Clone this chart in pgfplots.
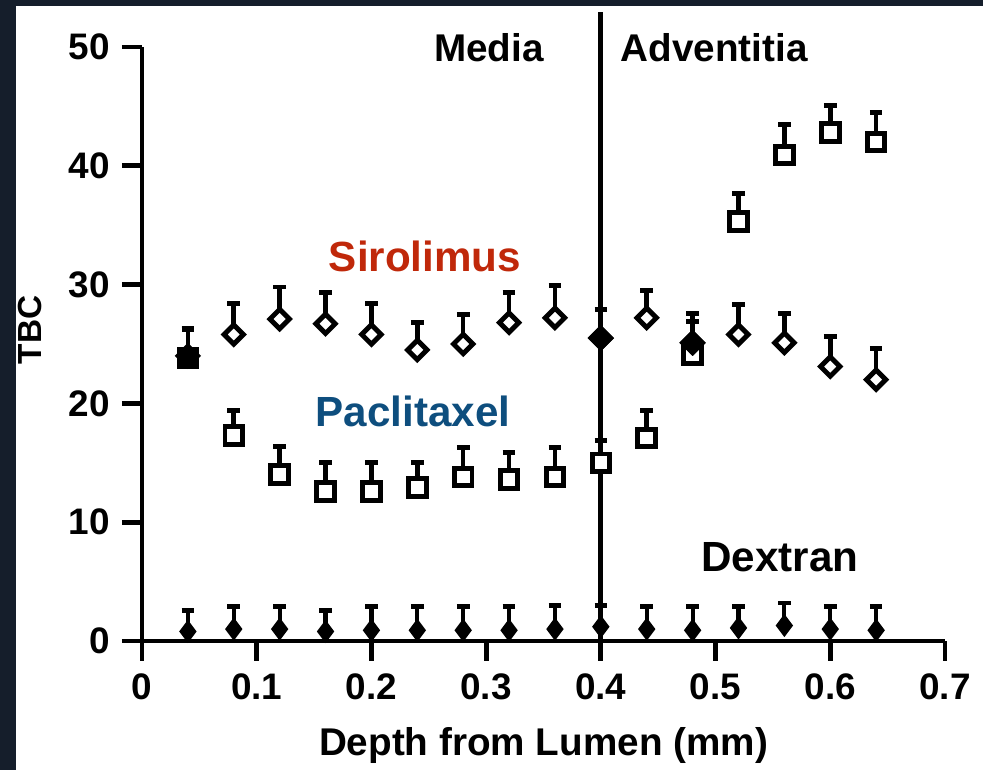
\documentclass[border=0pt]{standalone}
\usepackage{pgfplots}
\usepackage{pgfplotstable}
\pgfplotsset{compat=1.18}
\usepackage{fontspec}
\setmainfont{Liberation Sans}
\definecolor{bgdark}{HTML}{151E2B}
\definecolor{sirored}{HTML}{C0280A}
\definecolor{pacblue}{HTML}{0E4E7E}

% x = depth (mm), y = TBC, e = upper error
\pgfplotstableread{
x y e
0.04 24.0 2.3
0.08 25.8 2.6
0.12 27.1 2.7
0.16 26.7 2.6
0.20 25.8 2.6
0.24 24.5 2.3
0.28 25.0 2.5
0.32 26.8 2.5
0.36 27.2 2.7
0.40 25.5 2.4
0.44 27.2 2.3
0.48 25.1 2.5
0.52 25.8 2.5
0.56 25.1 2.5
0.60 23.1 2.5
0.64 22.0 2.6
}\siro
\pgfplotstableread{
x y e
0.40 25.5 2.4
0.48 25.1 2.5
}\sirofill
\pgfplotstableread{
x y e
0.04 23.8 2.4
0.08 17.3 2.1
0.12 14.0 2.4
0.16 12.6 2.4
0.20 12.6 2.4
0.24 12.9 2.1
0.28 13.8 2.5
0.32 13.6 2.3
0.36 13.8 2.5
0.40 15.0 1.9
0.44 17.1 2.3
0.48 24.1 2.8
0.52 35.3 2.4
0.56 40.9 2.6
0.60 42.8 2.3
0.64 42.0 2.5
}\pacl
\pgfplotstableread{
x y e
0.04 23.8 2.4
}\paclfill
\pgfplotstableread{
x y e
0.04 0.8 1.8
0.08 1.0 1.9
0.12 1.0 1.9
0.16 0.8 1.8
0.20 0.9 2.0
0.24 0.9 2.0
0.28 0.9 2.0
0.32 0.9 2.0
0.36 1.0 2.0
0.40 1.2 1.8
0.44 1.0 1.9
0.48 0.9 2.0
0.52 1.1 1.8
0.56 1.3 1.9
0.60 1.0 1.9
0.64 0.9 2.0
}\dext

\pgfplotsset{
  opensq/.style={only marks, mark=square*, mark size=2.5pt,
    mark options={fill=white, draw=black, line width=1.4pt}},
  fillsq/.style={only marks, mark=square*, mark size=2.5pt,
    mark options={fill=black, draw=black, line width=1.4pt}},
  opendia/.style={only marks, mark=square*, mark size=1.95pt,
    mark options={rotate=45, fill=white, draw=black, line width=1.4pt}},
  filldia/.style={only marks, mark=square*, mark size=1.95pt,
    mark options={rotate=45, fill=black, draw=black, line width=1.4pt}},
  ebar/.style={draw=none, mark=none,
    error bars/.cd, y dir=plus, y explicit,
    error bar style={draw=black, line width=1.3pt, solid},
    error mark=|,
    error mark options={draw=black, line width=1.4pt, mark size=1.8pt}},
}

\begin{document}
\begin{tikzpicture}[x=1cm,y=1cm]
\fill[bgdark] (0,0) rectangle (9.83,7.70);
\fill[white] (0.16,0) rectangle (9.83,7.64);
\begin{axis}[
  at={(1.42cm,1.29cm)}, anchor=south west,
  width=8.03cm, height=5.94cm, scale only axis,
  xmin=0, xmax=0.7, ymin=0, ymax=50,
  clip=false,
  axis lines=left,
  axis line style={-, line width=1.35pt, black},
  tick align=outside,
  major tick length=0.2cm,
  tick style={line width=1.35pt, black},
  xtick={0,0.1,0.2,0.3,0.4,0.5,0.6,0.7},
  ytick={0,10,20,30,40,50},
  /pgf/number format/assume math mode=true,
  ticklabel style={font=\fontsize{10.5}{12}\selectfont\bfseries},
  xlabel={Depth from Lumen (mm)},
  ylabel={TBC},
  xlabel style={font=\fontsize{11}{13}\selectfont\bfseries,
    at={(axis description cs:0.5,-0.1936)}, anchor=base},
  ylabel style={font=\fontsize{9.5}{11}\selectfont\bfseries,
    at={(axis description cs:-0.1395,0.5236)}, anchor=center},
]
% divider between media and adventitia
\addplot[no marks, line width=1.35pt, black] coordinates {(0.4,0) (0.4,52.95)};

\addplot[opensq] table[x=x,y=y] {\pacl};
\addplot[opendia] table[x=x,y=y] {\siro};
\addplot[fillsq] table[x=x,y=y] {\paclfill};
\addplot[filldia] table[x=x,y=y] {\sirofill};

\addplot[ebar] table[x=x,y=y,y error=e] {\pacl};
\addplot[ebar] table[x=x,y=y,y error=e] {\siro};

\addplot[only marks, mark=diamond*, mark size=2.8pt,
  mark options={fill=black, draw=black, line width=0.6pt}] table[x=x,y=y] {\dext};
\addplot[draw=none, mark=none,
    error bars/.cd, y dir=plus, y explicit,
    error bar style={draw=black, line width=1.2pt, solid},
    error mark=|,
    error mark options={draw=black, line width=1.4pt, mark size=1.8pt}]
  table[x=x,y=y,y error=e] {\dext};

\node[font=\fontsize{12}{14}\selectfont\bfseries, text=sirored] at (axis cs:0.2467,32.4) {Sirolimus};
\node[font=\fontsize{12}{14}\selectfont\bfseries, text=pacblue] at (axis cs:0.2363,19.36) {Paclitaxel};
\node[font=\fontsize{12}{14}\selectfont\bfseries, text=black] at (axis cs:0.556,7.07) {Dextran};
\node[font=\fontsize{11}{13}\selectfont\bfseries] at (axis cs:0.3025,49.96) {Media};
\node[font=\fontsize{11}{13}\selectfont\bfseries] at (axis cs:0.4987,49.96) {Adventitia};
\end{axis}
\end{tikzpicture}
\end{document}
